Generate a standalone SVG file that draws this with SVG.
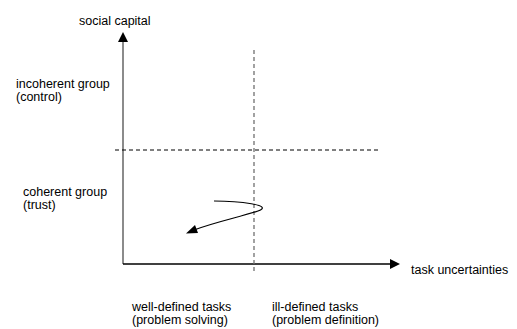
<svg xmlns="http://www.w3.org/2000/svg" width="517" height="329" viewBox="0 0 517 329">
<style>
text{font-family:"Liberation Sans",Arial,sans-serif;font-size:12.5px;fill:#000}
.axis{stroke:#000;stroke-width:1.3;fill:none}
.yaxis{stroke:#6e6e6e;stroke-width:1.6;fill:none}
.dash{stroke:#000;stroke-width:1;stroke-dasharray:4,3;fill:none}
.vdash{stroke:#707070;stroke-width:1.3;stroke-dasharray:4,3;fill:none}
.curve{stroke:#000;stroke-width:1.2;fill:none}
</style>
<rect width="517" height="329" fill="#fff"/>
<g id="connectors">
<line class="yaxis" x1="123" y1="264" x2="123" y2="41"/>
<polygon points="123,32 118,42 128,42" fill="#000"/>
<line class="axis" x1="123" y1="264" x2="391" y2="264"/>
<polygon points="400,264 390,259 390,269" fill="#000"/>
<line class="dash" x1="115" y1="150" x2="378" y2="150"/>
<line class="vdash" x1="254" y1="50" x2="254" y2="272"/>
<path class="curve" d="M214,201 C238,201 275,205 258,211 C240,217 215,222 194,230"/>
<polygon points="186,233.5 195,225 198,233" fill="#000"/>
</g>
<g id="label-y"><text x="79" y="25">social capital</text></g>
<g id="label-x"><text x="411" y="274">task uncertainties</text></g>
<g id="incoherent"><text x="16" y="88">incoherent group</text><text x="16" y="101">(control)</text></g>
<g id="coherent"><text x="23" y="196">coherent group</text><text x="23" y="209">(trust)</text></g>
<g id="well-defined"><text x="132" y="311">well-defined tasks</text><text x="132" y="324">(problem solving)</text></g>
<g id="ill-defined"><text x="272" y="311">ill-defined tasks</text><text x="272" y="324">(problem definition)</text></g>
</svg>
